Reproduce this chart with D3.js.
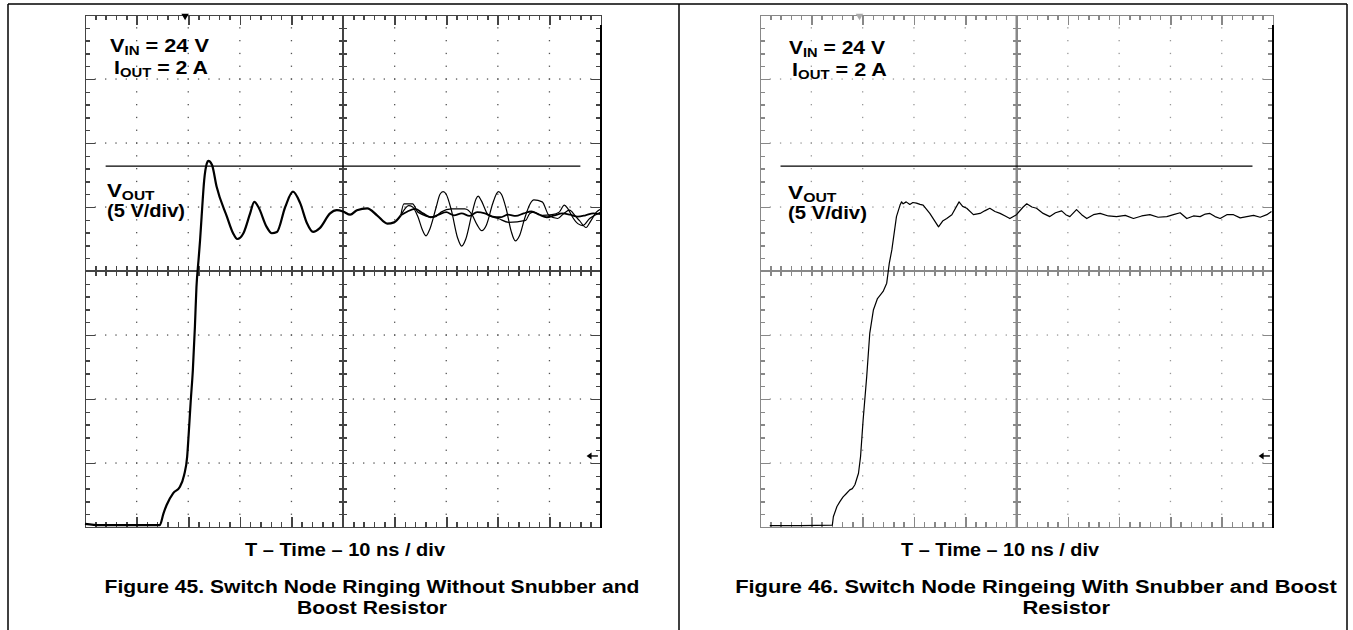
<!DOCTYPE html>
<html>
<head>
<meta charset="utf-8">
<script src="https://cdn.jsdelivr.net/npm/d3@7"></script>
<style>
  body { margin: 0; background: #fff; }
  svg { display: block; font-family: "Liberation Sans", Arial, sans-serif; font-weight: bold; }
</style>
</head>
<body>
<div id="chart"></div>
<script>

// ---- data (time in divisions, level in divisions) ----
var timeDomain = [0, 10];
var levelDomain = [-4, 4];
var majorTimes = [1, 2, 3, 4, 6, 7, 8, 9];
var majorLevels = [-3, -2, -1, 1, 2, 3];
var minorStep = 0.2;

// Figure 45: edge + first ringing, all acquisitions overlaid
var fig45Common = [
  [0.00, -3.95], [0.29, -3.97], [0.68, -3.97], [1.07, -3.97], [1.45, -3.97],
  [1.52, -3.79], [1.58, -3.66], [1.71, -3.47], [1.84, -3.37], [1.92, -3.19],
  [1.98, -2.90], [2.01, -2.54], [2.05, -2.02], [2.09, -1.55], [2.13, -0.87],
  [2.16, -0.25], [2.20, 0.17], [2.23, 0.48], [2.26, 0.85], [2.31, 1.42],
  [2.36, 1.68], [2.39, 1.72], [2.46, 1.66], [2.55, 1.32], [2.75, 0.85],
  [2.87, 0.59], [2.95, 0.50], [3.07, 0.59], [3.20, 0.90], [3.28, 1.08],
  [3.36, 1.00], [3.52, 0.69], [3.62, 0.59], [3.72, 0.61], [3.88, 1.00],
  [4.03, 1.24], [4.17, 1.06], [4.30, 0.75], [4.42, 0.61], [4.55, 0.67],
  [4.75, 0.90], [4.88, 0.95], [5.00, 0.93], [5.14, 0.88], [5.27, 0.95],
  [5.47, 0.98], [5.66, 0.87], [5.86, 0.74], [5.99, 0.76], [6.12, 0.87]
];
// Figure 45: the three acquisitions after they split apart
var fig45TraceA = [
  [6.12, 0.87], [6.25, 0.93], [6.40, 0.97], [6.55, 0.90], [6.70, 0.84], [6.85, 0.88],
  [7.00, 0.92], [7.15, 0.87], [7.30, 0.90], [7.45, 0.86], [7.60, 0.92], [7.75, 0.90],
  [7.90, 0.85], [8.05, 0.84], [8.20, 0.88], [8.35, 0.86], [8.50, 0.90], [8.65, 0.93],
  [8.80, 0.88], [8.95, 0.84], [9.10, 0.87], [9.25, 0.90], [9.40, 0.88], [9.55, 0.85],
  [9.70, 0.87], [9.85, 0.90], [10.0, 0.89]
];
var fig45TraceB = [
  [6.12, 0.87], [6.20, 0.97], [6.27, 1.02], [6.35, 1.00], [6.45, 0.85], [6.55, 0.62],
  [6.61, 0.55], [6.68, 0.65], [6.80, 0.98], [6.88, 1.20], [6.94, 1.24], [7.00, 1.20],
  [7.10, 0.95], [7.22, 0.52], [7.30, 0.39], [7.38, 0.50], [7.50, 0.90], [7.58, 1.13],
  [7.62, 1.17], [7.68, 1.10], [7.82, 0.87], [8.01, 0.82], [8.21, 0.76], [8.54, 0.79],
  [8.62, 0.90], [8.70, 0.92], [8.86, 0.87], [9.05, 0.88], [9.19, 0.92], [9.29, 1.03],
  [9.36, 0.97], [9.45, 0.84], [9.55, 0.74], [9.65, 0.71], [9.78, 0.82], [9.90, 0.88],
  [10.0, 0.92]
];
var fig45TraceC = [
  [6.12, 0.87], [6.18, 1.05], [6.35, 1.05], [6.45, 0.92], [6.77, 0.84], [6.90, 0.92],
  [7.10, 0.97], [7.36, 0.97], [7.50, 0.88], [7.60, 0.72], [7.69, 0.63], [7.78, 0.72],
  [7.90, 1.05], [7.97, 1.20], [8.01, 1.24], [8.07, 1.20], [8.16, 0.98], [8.26, 0.62],
  [8.34, 0.47], [8.42, 0.55], [8.52, 0.82], [8.62, 1.04], [8.70, 1.11], [8.86, 1.08],
  [8.99, 0.87], [9.16, 0.82], [9.28, 0.90], [9.39, 0.95], [9.50, 0.86], [9.58, 0.79],
  [9.71, 0.68], [9.80, 0.78], [9.91, 0.92], [10.0, 0.97]
];

// Figure 46: single trace
var fig46Trace = [
  [0.19, -3.98], [0.78, -3.98], [1.41, -3.97], [1.43, -3.84], [1.50, -3.68],
  [1.56, -3.60], [1.62, -3.53], [1.68, -3.48], [1.75, -3.42], [1.80, -3.40],
  [1.85, -3.34], [1.92, -3.16], [1.96, -2.90], [2.01, -2.33], [2.08, -1.65],
  [2.14, -0.97], [2.21, -0.61], [2.29, -0.43], [2.40, -0.32], [2.47, -0.19],
  [2.52, 0.12], [2.57, 0.33], [2.66, 0.85], [2.73, 1.03], [2.76, 1.08],
  [2.79, 1.05], [2.85, 1.08], [2.92, 1.04], [2.98, 1.07], [3.05, 1.06],
  [3.12, 1.04], [3.18, 1.03], [3.31, 0.90], [3.48, 0.69], [3.56, 0.78],
  [3.64, 0.82], [3.74, 0.88], [3.88, 1.08], [3.95, 1.01], [4.03, 0.98],
  [4.16, 0.88], [4.29, 0.90], [4.38, 0.94], [4.48, 0.98], [4.58, 0.93],
  [4.68, 0.90], [4.78, 0.86], [4.87, 0.82], [5.00, 0.88], [5.13, 1.00],
  [5.20, 1.05], [5.30, 1.00], [5.39, 0.98], [5.52, 0.90], [5.65, 0.85],
  [5.76, 0.91], [5.88, 0.94], [5.96, 0.88], [6.04, 0.85], [6.17, 0.96],
  [6.27, 0.88], [6.37, 0.82], [6.50, 0.88], [6.63, 0.90], [6.79, 0.86],
  [6.95, 0.85], [7.12, 0.87], [7.28, 0.82], [7.44, 0.86], [7.60, 0.88],
  [7.76, 0.84], [7.93, 0.85], [8.06, 0.88], [8.19, 0.91], [8.32, 0.82],
  [8.45, 0.86], [8.58, 0.85], [8.68, 0.89], [8.77, 0.90], [8.87, 0.85],
  [8.97, 0.82], [9.10, 0.88], [9.23, 0.88], [9.36, 0.83], [9.49, 0.85],
  [9.62, 0.87], [9.75, 0.84], [9.88, 0.88], [9.97, 0.93]
];

var refLevel = 1.64, refSpan = [0.4, 9.6];
var groundLevel = -2.89, groundArrow = [9.72, 9.94];
var triggerTime = 1.94;

var xTitle = "T \u2013 Time \u2013 10 ns / div";
var caption45 = ["Figure 45. Switch Node Ringing Without Snubber and", "Boost Resistor"];
var caption46 = ["Figure 46. Switch Node Ringeing With Snubber and Boost", "Resistor"];

// ---- drawing ----
var W = 1353, H = 630;
var svg = d3.select("#chart").append("svg")
  .attr("width", W).attr("height", H);

// table frame
var frame = svg.append("g").attr("stroke", "#000").attr("stroke-width", 1.5);
frame.append("line").attr("x1", 8).attr("y1", 4).attr("x2", 1347).attr("y2", 4);
[8, 679, 1347].forEach(function(x) {
  frame.append("line").attr("x1", x).attr("y1", 4).attr("x2", x).attr("y2", H);
});

// stretch a text element horizontally around an anchor x
function stretch(sel, x0, k) {
  sel.attr("transform", "translate(" + x0 + ",0) scale(" + k + ",1) translate(" + (-x0) + ",0)");
}
function fit(sel, x0, target) {
  var k = target / sel.node().getBBox().width;
  stretch(sel, x0, k);
  return k;
}

function scope(opt) {
  var w = opt.width, h = opt.height;
  var x = d3.scaleLinear().domain(timeDomain).range([0, w]);
  var y = d3.scaleLinear().domain(levelDomain).range([h, 0]);
  var g = svg.append("g").attr("transform", "translate(" + opt.left + "," + opt.top + ")");
  var c = opt.grid;

  var minorT = d3.range(timeDomain[0], timeDomain[1] + 0.001, minorStep);
  var minorV = d3.range(levelDomain[0], levelDomain[1] + 0.001, minorStep);

  // dotted graticule
  var dots = g.append("g").attr("fill", opt.dot);
  majorTimes.forEach(function(t) {
    dots.selectAll(null).data(minorV.slice(1, -1)).enter().append("rect")
      .attr("x", x(t) - 0.6).attr("y", function(v) { return y(v) - 0.6; })
      .attr("width", 1.3).attr("height", 1.3);
  });
  majorLevels.forEach(function(v) {
    dots.selectAll(null).data(minorT.slice(1, -1)).enter().append("rect")
      .attr("x", function(t) { return x(t) - 0.6; }).attr("y", y(v) - 0.6)
      .attr("width", 1.3).attr("height", 1.3);
  });

  function axisStyle(a, col, sw) {
    a.attr("shape-rendering", "crispEdges");
    a.selectAll("line").attr("stroke", col).attr("stroke-width", sw);
    a.selectAll("path").attr("stroke", col).attr("stroke-width", sw);
    a.selectAll("text").remove();
  }
  var majT = timeDomain.concat(majorTimes), majV = levelDomain.concat(majorLevels);

  // edges: minor ticks then longer major ticks
  var edges = [
    [function() { return d3.axisBottom(x); }, [0, 0], minorT, majT],
    [function() { return d3.axisTop(x); }, [0, h], minorT, majT],
    [function() { return d3.axisRight(y); }, [0, 0], minorV, majV],
    [function() { return d3.axisLeft(y); }, [w, 0], minorV, majV]
  ];
  edges.forEach(function(e) {
    g.append("g").attr("transform", "translate(" + e[1][0] + "," + e[1][1] + ")")
      .call(e[0]().tickValues(e[2]).tickSize(5).tickSizeOuter(0).tickFormat(""))
      .call(axisStyle, c, 1.5);
    g.append("g").attr("transform", "translate(" + e[1][0] + "," + e[1][1] + ")")
      .call(e[0]().tickValues(e[3]).tickSize(10).tickSizeOuter(0).tickFormat(""))
      .call(function(a) { a.select(".domain").remove(); })
      .call(axisStyle, c, 1.6);
  });

  // centre crosshair with ticks on both sides
  [d3.axisTop(x), d3.axisBottom(x)].forEach(function(a) {
    g.append("g").attr("transform", "translate(0," + y(0) + ")")
      .call(a.tickValues(minorT).tickSize(5).tickSizeOuter(0).tickFormat(""))
      .call(axisStyle, c, 1.5);
  });
  [d3.axisLeft(y), d3.axisRight(y)].forEach(function(a) {
    g.append("g").attr("transform", "translate(" + x(5) + ",0)")
      .call(a.tickValues(minorV).tickSize(4).tickSizeOuter(0).tickFormat(""))
      .call(axisStyle, c, 1.5);
  });
  g.append("line").attr("x1", 0).attr("x2", w).attr("y1", y(0)).attr("y2", y(0))
    .attr("stroke", c).attr("stroke-width", 2);
  g.append("line").attr("x1", x(5)).attr("x2", x(5)).attr("y1", 0).attr("y2", h)
    .attr("stroke", c).attr("stroke-width", 2);

  // darker right border
  g.append("line").attr("x1", w).attr("x2", w).attr("y1", 10).attr("y2", h + 1)
    .attr("stroke", "#000").attr("stroke-width", 2);

  // trigger marker and ground marker
  g.append("path")
    .attr("d", d3.symbol(d3.symbolTriangle, 24)())
    .attr("transform", "translate(" + x(triggerTime) + ",1) rotate(180)")
    .attr("fill", opt.trigColor);
  var gx0 = x(groundArrow[0]), gx1 = x(groundArrow[1]), gy = y(groundLevel);
  g.append("line").attr("x1", gx0 + 2).attr("x2", gx1).attr("y1", gy).attr("y2", gy)
    .attr("stroke", "#000").attr("stroke-width", 1.4);
  g.append("path")
    .attr("d", "M" + gx0 + "," + gy + "L" + (gx0 + 5) + "," + (gy - 3.5) + "L" + (gx0 + 5) + "," + (gy + 3.5) + "Z")
    .attr("fill", "#000");

  // reference level line
  var flat = d3.line().x(function(d) { return x(d[0]); }).y(function(d) { return y(d[1]); });
  g.append("path").datum([[refSpan[0], refLevel], [refSpan[1], refLevel]])
    .attr("d", flat).attr("stroke", "#000").attr("stroke-width", 1.2).attr("fill", "none");

  // waveforms
  opt.traces.forEach(function(tr) {
    var line = d3.line().curve(tr.smooth ? d3.curveMonotoneX : d3.curveLinear)
      .x(function(d) { return x(d[0]); }).y(function(d) { return y(d[1]); });
    g.append("path").datum(tr.data).attr("d", line)
      .attr("fill", "none").attr("stroke", "#000")
      .attr("stroke-width", tr.sw).attr("stroke-linejoin", "round");
  });

  // labels
  function label(px, py, main, sub, rest, target) {
    var t = g.append("text").attr("x", px).attr("y", py).attr("font-size", 18).attr("fill", "#000");
    t.append("tspan").text(main);
    if (sub) {
      t.append("tspan").attr("font-size", 12.5).attr("dy", 3).text(sub);
      if (rest) t.append("tspan").attr("dy", -3).text(rest);
    }
    fit(t, px, target);
  }
  var L = opt.labels;
  label(L.vin[0], L.vin[1], "V", "IN", " = 24 V", L.vin[2]);
  label(L.iout[0], L.iout[1], "I", "OUT", " = 2 A", L.iout[2]);
  label(L.vout[0], L.vout[1], "V", "OUT", "", L.vout[2]);
  label(L.div[0], L.div[1], "(5 V/div)", null, null, L.div[2]);

  // captions: first line fitted, second line uses the same stretch
  var tt = svg.append("text").attr("x", opt.titleX).attr("y", 556)
    .attr("text-anchor", "middle").attr("font-size", 18).text(xTitle);
  fit(tt, opt.titleX, opt.titleW);
  var c1 = svg.append("text").attr("x", opt.capX).attr("y", 593)
    .attr("text-anchor", "middle").attr("font-size", 18).text(opt.caption[0]);
  var k = fit(c1, opt.capX, opt.capW);
  var c2 = svg.append("text").attr("x", opt.cap2Right).attr("y", 614)
    .attr("text-anchor", "end").attr("font-size", 18).text(opt.caption[1]);
  stretch(c2, opt.cap2Right, k);
}

scope({
  left: 85, top: 15, width: 516, height: 512,
  grid: "#444", dot: "#555", trigColor: "#000",
  traces: [
    { data: fig45TraceC, sw: 1.2, smooth: true },
    { data: fig45TraceB, sw: 1.2, smooth: true },
    { data: fig45TraceA, sw: 1.8, smooth: true },
    { data: fig45Common, sw: 2.2, smooth: true }
  ],
  labels: { vin: [25, 37, 99], iout: [29, 59, 94], vout: [22, 182, 48], div: [22, 202, 78] },
  titleX: 345, titleW: 200,
  caption: caption45, capX: 372, capW: 535, cap2Right: 447
});

scope({
  left: 760, top: 15, width: 513, height: 512,
  grid: "#888", dot: "#999", trigColor: "#aaa",
  traces: [{ data: fig46Trace, sw: 1.2, smooth: false }],
  labels: { vin: [29, 39, 96], iout: [32, 61, 95], vout: [28, 184, 49], div: [28, 204, 79] },
  titleX: 1000, titleW: 198,
  caption: caption46, capX: 1036, capW: 602, cap2Right: 1110
});

</script>
</body>
</html>
